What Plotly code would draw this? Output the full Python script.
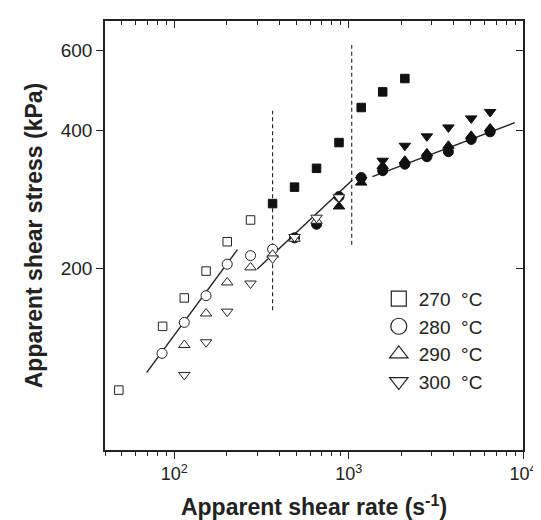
import plotly.graph_objects as go

# ---- data ----
rate_270 = [48, 85.6, 114, 152, 201, 273.5, 366, 489, 654, 880, 1180, 1567, 2100]
stress_270 = [108, 149, 172, 197, 228.5, 255, 277, 301, 331, 377, 450, 487, 521]

rate_280 = [85, 114, 152, 201, 273.5, 366, 489, 654, 880, 1180, 1567, 2100, 2810, 3733, 5045, 6477]
stress_280 = [130, 152, 174, 204, 213, 220, 233, 249.5, 287, 316, 327, 338, 351, 360, 383, 398]

rate_290 = [114, 152, 201, 273.5, 366, 489, 654, 880, 1180, 1567, 2100, 2810, 3733, 5045, 6477]
stress_290 = [135.6, 159, 186, 200.7, 214, 232, 254, 273, 308, 335, 344, 357, 371, 390, 405]

rate_300 = [114, 152, 201, 273.5, 366, 489, 654, 880, 1180, 1567, 2100, 2810, 3733, 5045, 6477]
stress_300 = [116.6, 137.5, 160.5, 185, 210, 234, 258, 286, 312, 344, 371, 389, 407, 426, 440]

# number of open (hollow) symbols at the start of each series; the rest are filled
n_open = {"270": 6, "280": 6, "290": 7, "300": 8}

fit1_rate = [69.3, 230]
fit1_stress = [118, 219.5]
fit2_rate = [299, 1050]
fit2_stress = [199, 312]
fit3_rate = [1368, 8970]
fit3_stress = [317.5, 417]

div1_rate = [366, 366]
div1_stress = [161.6, 442.5]
div2_rate = [1041, 1041]
div2_stress = [225, 617]

sector_labels = ["Sector one", "Sector two", "Sector three"]
sector_rate = [136, 568, 2774]
sector_stress = [267.5, 490, 596]

legend_names = ["270  °C", "280  °C", "290  °C", "300  °C"]
y_ticks = [200, 400, 600]
x_ticks = [100, 1000, 10000]
x_ticktext = ["10<sup>2</sup>", "10<sup>3</sup>", "10<sup>4</sup>"]
x_minor = [m * 10 ** e for e in (1, 2, 3) for m in range(2, 10) if 40 <= m * 10 ** e < 10000]

INK = "#222222"
FONT = "Liberation Sans, Arial, Helvetica, sans-serif"

fig = go.Figure()

series = [
    ("270", rate_270, stress_270, "square"),
    ("280", rate_280, stress_280, "circle"),
    ("290", rate_290, stress_290, "triangle-up"),
    ("300", rate_300, stress_300, "triangle-down"),
]

# fit lines drawn first (below symbols)
for fx, fy in [(fit1_rate, fit1_stress), (fit2_rate, fit2_stress), (fit3_rate, fit3_stress)]:
    fig.add_trace(go.Scatter(x=fx, y=fy, mode="lines", line=dict(color=INK, width=1.4),
                             showlegend=False, hoverinfo="skip"))
for dx, dy in [(div1_rate, div1_stress), (div2_rate, div2_stress)]:
    fig.add_trace(go.Scatter(x=dx, y=dy, mode="lines", line=dict(color=INK, width=1.1, dash="4px,3px"),
                             showlegend=False, hoverinfo="skip"))

for key, xs, ys, sym in series:
    k = n_open[key]
    size = 8.5 if sym == "square" else 10
    fig.add_trace(go.Scatter(x=xs[:k], y=ys[:k], mode="markers", showlegend=False,
                             marker=dict(symbol=sym, size=size, color="white",
                                         line=dict(color=INK, width=1))))
    fig.add_trace(go.Scatter(x=xs[k:], y=ys[k:], mode="markers", showlegend=False,
                             marker=dict(symbol=sym, size=size, color="#111111",
                                         line=dict(color="#111111", width=1))))

# legend-only entries with larger symbols
for (key, xs, ys, sym), name in zip(series, legend_names):
    fig.add_trace(go.Scatter(x=[None], y=[None], mode="markers", name=name,
                             marker=dict(symbol=sym, size=15 if sym == "square" else 17,
                                         color="white", line=dict(color=INK, width=1.2))))

# helper trace for mirrored (top/right) axes
fig.add_trace(go.Scatter(x=[None], y=[None], xaxis="x2", yaxis="y2", showlegend=False, hoverinfo="skip"))

for txt, sx, sy in zip(sector_labels, sector_rate, sector_stress):
    fig.add_annotation(x=sx, y=sy, text=txt, showarrow=False, xref="x", yref="y",
                       font=dict(size=19, color=INK, family=FONT), xanchor="center", yanchor="middle")

xr = [1.60206, 4.0]
yr = [1.902, 2.843]

fig.update_layout(
    width=541, height=520,
    margin=dict(l=97, r=17, t=13, b=77),
    paper_bgcolor="white", plot_bgcolor="white",
    font=dict(family=FONT, color=INK, size=19),
    xaxis=dict(type="log", range=xr, tickvals=x_ticks, ticktext=x_ticktext,
               ticks="outside", ticklen=7, tickwidth=1.3, tickcolor=INK,
               showline=True, linecolor=INK, linewidth=1.5, showgrid=False, zeroline=False,
               tickfont=dict(size=18, color=INK, family=FONT),
               minor=dict(tickvals=x_minor, ticks="outside", ticklen=4, tickwidth=1.1, tickcolor=INK, showgrid=False),
               title=dict(text="<b>Apparent shear rate (s<sup>-1</sup>)</b>", font=dict(size=23, color=INK, family=FONT), standoff=16)),
    yaxis=dict(type="log", range=yr, tickvals=y_ticks, ticktext=[str(v) for v in y_ticks],
               ticks="outside", ticklen=7, tickwidth=1.3, tickcolor=INK,
               showline=True, linecolor=INK, linewidth=1.5, showgrid=False, zeroline=False,
               tickfont=dict(size=19, color=INK, family=FONT),
               title=dict(text="<b>Apparent shear stress (kPa)</b>", font=dict(size=23, color=INK, family=FONT), standoff=12)),
    xaxis2=dict(type="log", range=xr, overlaying="x", side="top", tickvals=x_ticks,
                ticks="inside", ticklen=7, tickwidth=1.3, tickcolor=INK, showticklabels=False,
                showline=True, linecolor=INK, linewidth=1.5, showgrid=False, zeroline=False,
                minor=dict(tickvals=x_minor, ticks="inside", ticklen=4, tickwidth=1.1, tickcolor=INK, showgrid=False)),
    yaxis2=dict(type="log", range=yr, overlaying="y", side="right", tickvals=y_ticks,
                ticks="inside", ticklen=7, tickwidth=1.3, tickcolor=INK, showticklabels=False,
                showline=True, linecolor=INK, linewidth=1.5, showgrid=False, zeroline=False),
    legend=dict(x=0.655, y=0.397, xanchor="left", yanchor="top", bgcolor="rgba(0,0,0,0)",
                font=dict(size=19, color=INK, family=FONT), itemsizing="trace", tracegroupgap=0),
    showlegend=True,
)

fig.write_html("out.html")
